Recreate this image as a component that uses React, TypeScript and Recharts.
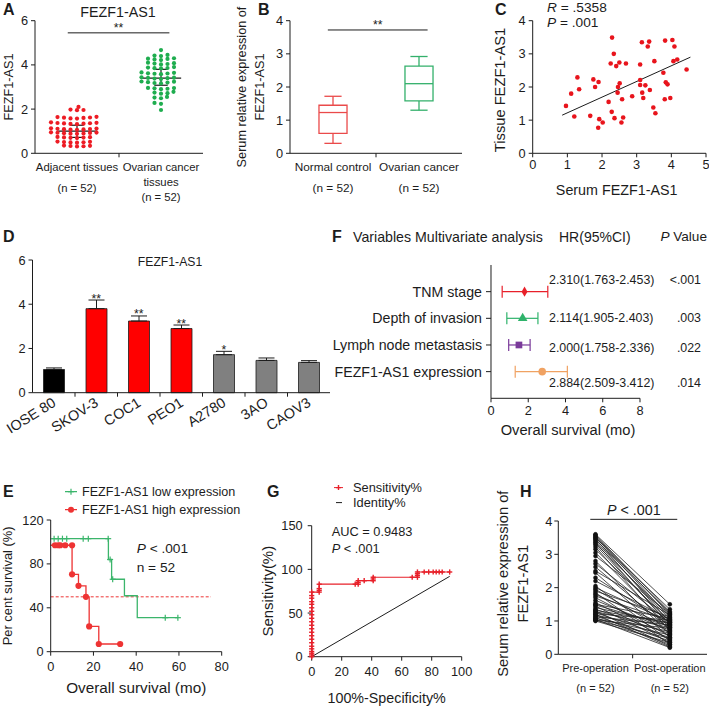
import React from "react";
import {
  ComposedChart,
  Scatter,
  Line,
  Bar,
  Cell,
  XAxis,
  YAxis,
  ReferenceLine,
  ReferenceArea,
  ErrorBar,
  Label,
  Symbols,
} from "recharts";

// ---------- A: tissue expression ----------
const catsA = [["Adjacent tissues", "(n = 52)"], ["Ovarian cancer", "tissues", "(n = 52)"]];
const adjacentA = [2.1, 1.98, 1.96, 1.95, 1.64, 1.6, 1.62, 1.58, 1.65, 1.57, 1.61, 1.36, 1.33, 1.38, 1.35, 1.32, 1.37, 1.34, 1.4, 1.1, 1.12, 1.08, 1.11, 1.07, 1.13, 1.09, 1.06, 0.92, 0.9, 0.94, 0.89, 0.93, 0.91, 0.95, 0.88, 0.73, 0.7, 0.74, 0.71, 0.72, 0.69, 0.52, 0.5, 0.53, 0.49, 0.51, 0.48, 0.34, 0.33, 0.32, 0.35, 0.31];
const ovarianA = [4.67, 4.45, 4.42, 4.4, 4.3, 4.27, 4.25, 4.28, 4.22, 4.08, 4.04, 4.1, 4.06, 4.02, 3.88, 3.85, 3.9, 3.86, 3.84, 3.62, 3.66, 3.6, 3.64, 3.58, 3.61, 3.42, 3.4, 3.38, 3.44, 3.36, 3.41, 3.22, 3.25, 3.18, 3.2, 3.24, 3.16, 2.95, 2.92, 2.96, 2.9, 2.94, 2.75, 2.72, 2.7, 2.78, 2.52, 2.55, 2.49, 2.28, 2.24, 1.96];
const midA = [1.0, 3.4];
const loA = [0.72, 3.08];
const hiA = [1.27, 3.8];

// ---------- B: serum box plot ----------
const catsB = [["Normal control", "(n = 52)"], ["Ovarian cancer", "(n = 52)"]];
const minB = [0.3, 1.3];
const q1B = [0.6, 1.58];
const medB = [1.23, 2.1];
const q3B = [1.45, 2.63];
const maxB = [1.72, 2.92];

// ---------- C: correlation ----------
const serumC = [0.96, 1.11, 1.29, 1.34, 1.2, 1.75, 1.8, 1.9, 1.66, 1.92, 1.89, 2.02, 2.19, 2.29, 2.34, 2.25, 2.5, 2.41, 2.69, 2.28, 2.36, 2.46, 2.51, 2.45, 2.58, 2.61, 2.56, 2.87, 3.1, 3.1, 3.1, 3.16, 3.19, 3.25, 3.15, 3.32, 3.36, 3.38, 3.51, 3.48, 3.54, 3.77, 3.82, 3.81, 3.84, 3.89, 3.97, 4.03, 4.06, 4.09, 4.17, 4.44];
const tissueC = [1.43, 1.8, 2.29, 1.93, 1.11, 2.23, 2.0, 2.15, 1.13, 1.03, 0.77, 0.93, 1.55, 3.49, 3.0, 2.71, 2.74, 2.63, 2.71, 1.25, 1.06, 2.0, 2.11, 1.83, 1.63, 1.08, 0.93, 1.72, 2.21, 2.68, 2.06, 1.83, 1.67, 2.05, 3.35, 3.22, 3.37, 1.91, 2.78, 1.38, 1.21, 2.43, 3.4, 1.63, 2.14, 2.08, 1.67, 3.42, 2.78, 3.22, 2.83, 2.53];
const fitXC = [0.85, 4.55];
const fitYC = [1.15, 2.9];

// ---------- D: cell lines ----------
const cellsD = ["IOSE 80", "SKOV-3", "COC1", "PEO1", "A2780", "3AO", "CAOV3"];
const meanD = [1.05, 3.8, 3.24, 2.9, 1.72, 1.46, 1.37];
const errD = [0.07, 0.39, 0.23, 0.16, 0.15, 0.11, 0.08];
const sigD = ["", "**", "**", "**", "*", "", ""];
const colorsD = ["#000000", "#ff0000", "#ff0000", "#ff0000", "#808080", "#808080", "#808080"];

// ---------- E: survival ----------
const lowE = [{ x: 0, y: 103 }, { x: 27, y: 84 }, { x: 28.5, y: 66 }, { x: 34.5, y: 51 }, { x: 40.5, y: 31 }, { x: 59.5, y: 31 }];
const highE = [{ x: 0, y: 97 }, { x: 10, y: 70.5 }, { x: 13, y: 60 }, { x: 16.5, y: 50 }, { x: 18, y: 23 }, { x: 22.5, y: 7 }, { x: 32.5, y: 7 }];
const lowCensE = [{ x: 1.6, y: 103 }, { x: 3.5, y: 103 }, { x: 5.5, y: 103 }, { x: 7.5, y: 103 }, { x: 15.2, y: 103 }, { x: 17.6, y: 103 }, { x: 26.9, y: 103 }, { x: 27.8, y: 84 }, { x: 29, y: 66 }, { x: 53.6, y: 31 }, { x: 59.5, y: 31 }];
const highCensE = [{ x: 2, y: 97 }, { x: 3.5, y: 97 }, { x: 4.5, y: 97 }, { x: 6.8, y: 97 }, { x: 10, y: 97 }, { x: 10, y: 70.5 }, { x: 13, y: 60 }, { x: 16.5, y: 50 }, { x: 18, y: 23 }, { x: 22.5, y: 7 }, { x: 32.5, y: 7 }];
const legendE = ["FEZF1-AS1 low expression", "FEZF1-AS1 high expression"];

// ---------- F: multivariate ----------
const varsF = ["TNM stage", "Depth of invasion", "Lymph node metastasis", "FEZF1-AS1 expression"];
const pointF = [1.8, 1.7, 1.5, 2.75];
const lowF = [0.6, 0.85, 0.95, 1.3];
const highF = [3.05, 2.52, 2.1, 4.1];
const hrF = ["2.310(1.763-2.453)", "2.114(1.905-2.403)", "2.000(1.758-2.336)", "2.884(2.509-3.412)"];
const pF = ["<.001", ".003", ".022", ".014"];

// ---------- G: ROC ----------
const rocX = [0, 0, 0, 0, 0, 0, 0, 0, 0, 0, 0, 0, 0, 0, 0, 0, 0, 0, 0, 0, 0, 0, 5, 5, 5, 5, 29, 31, 31, 31, 35, 41, 41, 41, 67, 70.5, 70.5, 70.5, 70.5, 75, 78, 81, 83, 85, 87, 92];
const rocY = [0, 2, 4, 6, 9, 12, 16, 20, 24, 28, 32, 36, 40, 44, 48, 52, 56, 60, 63, 67, 70, 74, 74, 76, 78, 83, 83, 83, 85, 87, 87, 87, 89, 91, 91, 91, 93, 95, 97, 97, 97, 97, 97, 97, 97, 97];
const identityG = [{ x: 0, y: 0 }, { x: 92, y: 92 }];

// ---------- H: pre / post operation ----------
const catsH = [["Pre-operation", "(n = 52)"], ["Post-operation", "(n = 52)"]];
const preH = [3.6, 3.58, 3.55, 3.52, 3.5, 3.47, 3.44, 3.4, 3.36, 3.32, 3.28, 3.22, 3.15, 3.05, 2.95, 2.8, 2.72, 2.62, 2.5, 2.45, 2.3, 2.2, 2.05, 2.0, 1.95, 1.9, 1.85, 1.8, 1.75, 1.7, 1.62, 1.55, 1.5, 1.45, 1.4, 1.35, 1.3, 1.28, 1.25, 1.22, 1.2, 1.18, 1.15, 1.13, 1.1, 1.08, 1.05, 1.03, 1.02, 1.0, 1.32, 1.48];
const postH = [1.5, 1.28, 1.2, 1.1, 1.35, 0.95, 1.25, 1.05, 0.85, 1.15, 0.9, 0.7, 1.0, 0.8, 1.22, 0.6, 0.95, 0.75, 1.18, 0.5, 0.88, 1.05, 0.4, 0.98, 0.65, 1.12, 0.3, 0.82, 1.0, 0.55, 0.72, 0.45, 1.08, 0.35, 0.92, 0.62, 0.25, 0.8, 0.5, 1.02, 0.22, 0.68, 0.4, 0.88, 0.3, 0.58, 0.2, 0.78, 0.48, 0.35, 0.95, 0.85];

// ---------- styling ----------
// no narrow face is installed, so sizes follow the text widths of the original
const NARROW = 0.9;
const fz = (w: number) => Math.round((w / NARROW) * 10) / 10;
const FONT = "'Liberation Sans', Arial, sans-serif";
const BOLD = "'Liberation Sans', Arial, sans-serif";
const INK = "#1c1c1c";
const TICK = fz(11.5);

function Txt({ x, y, a = "start", size = 14, bold = false, children }: any) {
  const tx = a === "middle" ? "-50%" : a === "end" ? "-100%" : "0";
  return (
    <div
      style={{
        position: "absolute",
        left: x,
        top: y,
        transform: `translate(${tx}, -50%)`,
        fontSize: size,
        lineHeight: 1,
        whiteSpace: "nowrap",
        fontFamily: bold ? BOLD : FONT,
        fontWeight: bold ? 700 : 400,
        color: INK,
      }}
    >
      {children}
    </div>
  );
}

const Panel = ({ left, top, children }: any) => (
  <div style={{ position: "absolute", left, top }}>{children}</div>
);

// beeswarm layout: y stays at the value, x shifts sideways until the dot
// clears its neighbours (ellipse: wider spacing across than up/down)
function swarm(vals: number[], center: number, pxX: number, pxY: number, gx: number, gy: number) {
  const placed: { x: number; y: number }[] = [];
  return [...vals].sort((a, b) => a - b).map((v, n) => {
    const py = v * pxY;
    const side = n % 2 ? -1 : 1;
    let off = 0;
    for (let k = 0; k < 400; k++) {
      const o = (k % 2 ? -side : side) * Math.ceil(k / 2) * 0.5;
      if (placed.every((p) => ((p.x - o) / gx) ** 2 + ((p.y - py) / gy) ** 2 >= 1)) {
        off = o;
        break;
      }
    }
    placed.push({ x: off, y: py });
    return { x: center + off / pxX, y: v };
  });
}

const yTitle = (lines: string[], dx: number, size: number, dy = 0, gap = 0) => (p: any) => {
  const vb = p.viewBox || { x: 0, y: 0, height: 0 };
  const cx = vb.x + dx;
  const cy = vb.y + vb.height / 2 + dy;
  return (
    <text x={cx} y={cy} transform={`rotate(-90 ${cx} ${cy})`} textAnchor="middle" dominantBaseline="central" fill={INK} fontSize={size}>
      {lines.map((l, i) => (
        <tspan key={i} x={cx} dy={i === 0 ? 0 : gap}>{l}</tspan>
      ))}
    </text>
  );
};

const xTitle = (text: string, dy: number, size: number, dx = 0) => (p: any) => {
  const vb = p.viewBox || { x: 0, y: 0, width: 0 };
  return (
    <text x={vb.x + vb.width / 2 + dx} y={vb.y + dy} textAnchor="middle" dominantBaseline="central" fill={INK} fontSize={size}>
      {text}
    </text>
  );
};

// ticks for two-group numeric axes: label at 0.5 / 1.5, tick mark at 1
const catTick = (cats: string[][], axisY: number, first: number, gaps: number[], size: number) => (p: any) => {
  const { x, payload } = p;
  if (payload.value === 1) return <line x1={x} x2={x} y1={axisY} y2={axisY + 4} stroke={INK} />;
  const i = payload.value < 1 ? 0 : 1;
  return (
    <text textAnchor="middle" dominantBaseline="central" fill={INK} fontSize={size}>
      {cats[i].map((l, k) => (
        <tspan key={k} x={x} y={axisY + first + k * gaps[i]}>{l}</tspan>
      ))}
    </text>
  );
};

const sigLabel = (text: string, size: number, dy: number, italicP = false) => (p: any) => {
  const vb = p.viewBox || { x: 0, y: 0, width: 0 };
  return (
    <text x={vb.x + vb.width / 2} y={vb.y + dy} textAnchor="middle" dominantBaseline="central" fill={INK} fontSize={size}>
      {italicP && <tspan fontStyle="italic">P</tspan>}
      {text}
    </text>
  );
};

const dot = (r: number, fill: string) => (p: any) => <circle cx={p.cx} cy={p.cy} r={r} fill={fill} />;
const plus = (s: number, c: string, w = 1.2) => (p: any) => (
  <g stroke={c} strokeWidth={w}>
    <line x1={p.cx - s} x2={p.cx + s} y1={p.cy} y2={p.cy} />
    <line x1={p.cx} x2={p.cx} y1={p.cy - s} y2={p.cy + s} />
  </g>
);

const yAx = (w: number, domain: number[], ticks: number[], margin = 3) => ({
  type: "number" as const,
  dataKey: "y",
  width: w,
  domain,
  ticks,
  stroke: INK,
  tickSize: 4,
  tickMargin: margin,
  interval: 0 as const,
  tick: { fill: INK, fontSize: TICK },
});

// ---------- panels ----------
function PanelA() {
  const mt = 20.7, ph = 132.6, H = 205, axisY = mt + ph;
  const red = swarm(adjacentA, 0.5, 84, ph / 6, 6.4, 3.4);
  const green = swarm(ovarianA, 1.5, 84, ph / 6, 6.4, 3.4);
  return (
    <Panel left={0} top={0}>
      <ComposedChart width={210} height={H} margin={{ top: mt, right: 7, bottom: 0, left: 0 }}>
        <XAxis type="number" dataKey="x" domain={[0, 2]} ticks={[0.5, 1, 1.5]} interval={0} height={H - axisY} stroke={INK} tickLine={false} tick={catTick(catsA, axisY, 13.4, [21.6, 15], fz(10.2))} />
        <YAxis {...yAx(35, [0, 6], [0, 2, 4, 6])}>
          <Label content={yTitle(["FEZF1-AS1"], 9, fz(11.4))} />
        </YAxis>
        <Scatter data={red} dataKey="y" shape={dot(2.1, "#ed1c24")} isAnimationActive={false} />
        <Scatter data={green} dataKey="y" shape={dot(2.1, "#1fad4f")} isAnimationActive={false} />
        {midA.map((m, i) => {
          const c = i + 0.5;
          return [
            <ReferenceLine key={`m${i}`} segment={[{ x: c - 0.24, y: m }, { x: c + 0.24, y: m }]} stroke={INK} strokeWidth={1.2} />,
            <ReferenceLine key={`v${i}`} segment={[{ x: c, y: loA[i] }, { x: c, y: hiA[i] }]} stroke={INK} strokeWidth={1.2} />,
            <ReferenceLine key={`l${i}`} segment={[{ x: c - 0.08, y: loA[i] }, { x: c + 0.08, y: loA[i] }]} stroke={INK} strokeWidth={1.2} />,
            <ReferenceLine key={`h${i}`} segment={[{ x: c - 0.08, y: hiA[i] }, { x: c + 0.08, y: hiA[i] }]} stroke={INK} strokeWidth={1.2} />,
          ];
        })}
        <ReferenceLine segment={[{ x: 0.39, y: 5.45 }, { x: 1.6, y: 5.45 }]} stroke={INK} label={sigLabel("**", fz(11), -5)} />
      </ComposedChart>
    </Panel>
  );
}

function PanelB() {
  const mt = 20.7, ph = 132.6, H = 205, axisY = mt + ph;
  const colors = ["#ea4a4a", "#33b06b"];
  const medians = medB.map((m, i) => ({ x: i + 0.5, y: m, c: colors[i] }));
  const hw = 0.163, cw = 0.1;
  return (
    <Panel left={233} top={0}>
      <ComposedChart width={235} height={H} margin={{ top: mt, right: 6, bottom: 0, left: 0 }}>
        <XAxis type="number" dataKey="x" domain={[0, 2]} ticks={[0.5, 1, 1.5]} interval={0} height={H - axisY} stroke={INK} tickLine={false} tick={catTick(catsB, axisY, 13.7, [21.3, 21.3], fz(10.6))} />
        <YAxis {...yAx(57, [0, 4], [0, 1, 2, 3, 4])}>
          <Label content={yTitle(["Serum relative expression of", "FEZF1-AS1"], 8.7, fz(11.4), 0, 18.3)} />
        </YAxis>
        {medB.map((_, i) => {
          const c = i + 0.5, col = colors[i];
          return [
            <ReferenceArea key={`b${i}`} x1={c - hw} x2={c + hw} y1={q1B[i]} y2={q3B[i]} fill="none" stroke={col} strokeWidth={1.3} />,
            <ReferenceLine key={`w1${i}`} segment={[{ x: c, y: minB[i] }, { x: c, y: q1B[i] }]} stroke={col} strokeWidth={1.3} />,
            <ReferenceLine key={`w2${i}`} segment={[{ x: c, y: q3B[i] }, { x: c, y: maxB[i] }]} stroke={col} strokeWidth={1.3} />,
            <ReferenceLine key={`c1${i}`} segment={[{ x: c - cw, y: minB[i] }, { x: c + cw, y: minB[i] }]} stroke={col} strokeWidth={1.3} />,
            <ReferenceLine key={`c2${i}`} segment={[{ x: c - cw, y: maxB[i] }, { x: c + cw, y: maxB[i] }]} stroke={col} strokeWidth={1.3} />,
          ];
        })}
        <Scatter
          data={medians}
          dataKey="y"
          isAnimationActive={false}
          shape={(p: any) => <line x1={p.cx - 14} x2={p.cx + 14} y1={p.cy} y2={p.cy} stroke={p.payload.c} strokeWidth={1.3} />}
        />
        <ReferenceLine segment={[{ x: 0.44, y: 3.72 }, { x: 1.6, y: 3.72 }]} stroke={INK} label={sigLabel("**", fz(11), -5)} />
      </ComposedChart>
    </Panel>
  );
}

function PanelC() {
  const mt = 20.7, H = 205, axisY = mt + 132.6;
  const pts = serumC.map((x, i) => ({ x, y: tissueC[i] }));
  return (
    <Panel left={490} top={0}>
      <ComposedChart width={219} height={H} margin={{ top: mt, right: 3, bottom: 0, left: 0 }}>
        <XAxis type="number" dataKey="x" domain={[0, 5]} ticks={[0, 1, 2, 3, 4, 5]} interval={0} height={H - axisY} stroke={INK} tickSize={4} tickMargin={3} tick={{ fill: INK, fontSize: TICK }}>
          <Label content={xTitle("Serum FEZF1-AS1", 36.7, fz(12.9), -2.7)} />
        </XAxis>
        <YAxis {...yAx(42.7, [0, 4], [0, 1, 2, 3, 4])}>
          <Label content={yTitle(["Tissue FEZF1-AS1"], 10, fz(13.2), 3)} />
        </YAxis>
        <Scatter data={pts} dataKey="y" shape={dot(2.3, "#e8141c")} isAnimationActive={false} />
        <ReferenceLine segment={[{ x: fitXC[0], y: fitYC[0] }, { x: fitXC[1], y: fitYC[1] }]} stroke={INK} strokeWidth={1} />
      </ComposedChart>
    </Panel>
  );
}

function PanelD() {
  const mt = 10, ph = 132.7, H = 185, axisY = mt + ph;
  const band = 297.5 / cellsD.length;
  const data = cellsD.map((name, i) => ({ name, value: meanD[i], err: [0, errD[i]], top: meanD[i] + errD[i], sig: sigD[i] }));
  const tick = (p: any) => {
    const { x, payload, index } = p;
    const tx = x + 3, ty = axisY + 12.5;
    return (
      <g>
        {index < cellsD.length - 1 && <line x1={x + band / 2} x2={x + band / 2} y1={axisY} y2={axisY + 4} stroke={INK} />}
        <text x={tx} y={ty} transform={`rotate(-32 ${tx} ${ty})`} textAnchor="end" fontSize={fz(13)} fill={INK}>
          {payload.value}
        </text>
      </g>
    );
  };
  return (
    <Panel left={0} top={260 - mt}>
      <ComposedChart width={332} height={H} data={data} margin={{ top: mt, right: 2, bottom: 0, left: 0 }}>
        <XAxis dataKey="name" type="category" interval={0} height={H - axisY} stroke={INK} tickLine={false} tick={tick} />
        <YAxis type="number" width={32.5} domain={[0, 6]} ticks={[0, 2, 4, 6]} interval={0} stroke={INK} tickSize={4} tickMargin={3} tick={{ fill: INK, fontSize: TICK }} />
        <Bar dataKey="value" barSize={21} stroke={INK} strokeWidth={0.8} isAnimationActive={false}>
          {data.map((_, i) => (
            <Cell key={i} fill={colorsD[i]} />
          ))}
          <ErrorBar dataKey="err" width={8} stroke={INK} strokeWidth={1} direction="y" />
        </Bar>
        <Scatter
          dataKey="top"
          isAnimationActive={false}
          shape={(p: any) => (
            <text x={p.cx} y={p.cy + 2.5} textAnchor="middle" fontSize={fz(11)} fill={INK}>
              {p.payload.sig}
            </text>
          )}
        />
      </ComposedChart>
    </Panel>
  );
}

function PanelF() {
  const mt = 10, ph = 133.3, H = 185.3, axisY = mt + ph;
  const colors = ["#e8202a", "#2fb36b", "#7a3a9a", "#f0a262"];
  const shapes = ["diamond", "triangle", "square", "circle"];
  const sizes = [30, 40, 45, 45];
  return (
    <Panel left={330} top={265 - mt}>
      <ComposedChart width={315} height={H} margin={{ top: mt, right: 5, bottom: 0, left: 0 }}>
        <XAxis type="number" dataKey="x" domain={[0, 8]} ticks={[0, 2, 4, 6, 8]} interval={0} height={H - axisY} stroke={INK} tickSize={4} tickMargin={4} tick={{ fill: INK, fontSize: TICK }}>
          <Label content={xTitle("Overall survival (mo)", 31.7, fz(13.2), 2.5)} />
        </XAxis>
        <YAxis
          type="number"
          dataKey="y"
          width={161}
          domain={[0, 5]}
          reversed
          ticks={[1, 2, 3, 4]}
          interval={0}
          stroke={INK}
          tickSize={5}
          tickMargin={4}
          tickFormatter={(v: number) => varsF[v - 1]}
          tick={{ fill: INK, fontSize: fz(12.8) }}
        />
        {varsF.map((_, i) => (
          <Scatter
            key={i}
            data={[{ x: pointF[i], y: i + 1, err: [pointF[i] - lowF[i], highF[i] - pointF[i]] }]}
            dataKey="y"
            isAnimationActive={false}
            shape={(p: any) => <Symbols cx={p.cx} cy={p.cy} type={shapes[i] as any} size={sizes[i]} fill={colors[i]} />}
          >
            <ErrorBar dataKey="err" direction="x" width={6} stroke={colors[i]} strokeWidth={1.2} />
          </Scatter>
        ))}
      </ComposedChart>
    </Panel>
  );
}

function PanelE() {
  const mt = 10, ph = 131.7, H = 198, axisY = mt + ph;
  return (
    <Panel left={0} top={520 - mt}>
      <ComposedChart width={229.7} height={H} margin={{ top: mt, right: 8, bottom: 0, left: 0 }}>
        <XAxis type="number" dataKey="x" domain={[0, 80]} ticks={[0, 20, 40, 60, 80]} interval={0} height={H - axisY} stroke={INK} tickSize={4} tickMargin={6} tick={{ fill: INK, fontSize: TICK }}>
          <Label content={xTitle("Overall survival (mo)", 35.6, fz(13.8))} />
        </XAxis>
        <YAxis {...yAx(50.7, [0, 120], [0, 40, 80, 120])}>
          <Label content={yTitle(["Per cent survival (%)"], 6.7, fz(11.6))} />
        </YAxis>
        <ReferenceLine segment={[{ x: 0, y: 50 }, { x: 75, y: 50 }]} stroke="#ee3333" strokeDasharray="3 2" />
        <Line data={lowE} dataKey="y" type="stepAfter" stroke="#3bb56b" strokeWidth={1.3} dot={false} activeDot={false} isAnimationActive={false} />
        <Line data={highE} dataKey="y" type="stepAfter" stroke="#ee3333" strokeWidth={1.3} dot={false} activeDot={false} isAnimationActive={false} />
        <Scatter data={lowCensE} dataKey="y" shape={plus(3, "#3bb56b")} isAnimationActive={false} />
        <Scatter data={highCensE} dataKey="y" shape={dot(3.1, "#ee3333")} isAnimationActive={false} />
      </ComposedChart>
    </Panel>
  );
}

function PanelG() {
  const mt = 10.7, ph = 131, H = 193, axisY = mt + ph;
  const roc = rocX.map((x, i) => ({ x, y: rocY[i] }));
  return (
    <Panel left={258} top={525.7 - mt}>
      <ComposedChart width={215.7} height={H} margin={{ top: mt, right: 12, bottom: 0, left: 0 }}>
        <XAxis type="number" dataKey="x" domain={[0, 100]} ticks={[0, 20, 40, 60, 80, 100]} interval={0} height={H - axisY} stroke={INK} tickSize={4} tickMargin={6} tick={{ fill: INK, fontSize: TICK }}>
          <Label content={xTitle("100%-Specificity%", 41.6, fz(12.9))} />
        </XAxis>
        <YAxis {...yAx(53.7, [0, 150], [0, 50, 100, 150], 5)}>
          <Label content={yTitle(["Sensitivity(%)"], 8.7, fz(13.5))} />
        </YAxis>
        <Line data={identityG} dataKey="y" type="linear" stroke={INK} strokeWidth={1} dot={false} activeDot={false} isAnimationActive={false} />
        <Line data={roc} dataKey="y" type="linear" stroke="#e8202a" strokeWidth={1.2} dot={false} activeDot={false} isAnimationActive={false} />
        <Scatter data={roc} dataKey="y" shape={plus(2.6, "#e8202a", 1.4)} isAnimationActive={false} />
      </ComposedChart>
    </Panel>
  );
}

function PanelH() {
  const mt = 21, ph = 133.3, H = 208, axisY = mt + ph;
  return (
    <Panel left={495} top={521 - mt}>
      <ComposedChart width={214} height={H} margin={{ top: mt, right: 2, bottom: 0, left: 0 }}>
        <XAxis type="number" dataKey="x" domain={[0, 2]} ticks={[0.5, 1, 1.5]} interval={0} height={H - axisY} stroke={INK} tickLine={false} tick={catTick(catsH, axisY, 14, [20, 20], fz(9.9))} />
        <YAxis {...yAx(63.3, [0, 4], [0, 1, 2, 3, 4], 2)}>
          <Label content={yTitle(["Serum relative expression of", "FEZF1-AS1"], 8.3, fz(13.2), -4, 20)} />
        </YAxis>
        {preH.map((v, i) => (
          <Line
            key={i}
            data={[{ x: 0.5, y: v }, { x: 1.5, y: postH[i] }]}
            dataKey="y"
            stroke="#222"
            strokeWidth={0.8}
            dot={{ r: 2, fill: "#111", stroke: "#111", strokeWidth: 0.5 }}
            activeDot={false}
            isAnimationActive={false}
          />
        ))}
        <ReferenceLine segment={[{ x: 0.43, y: 4.05 }, { x: 1.6, y: 4.05 }]} ifOverflow="visible" stroke={INK} label={sigLabel(" < .001", fz(12.9), -9.3, true)} />
      </ComposedChart>
    </Panel>
  );
}

export default function App() {
  return (
    <div style={{ position: "absolute", left: 0, top: 0, width: 709, height: 708, background: "#fff", fontFamily: FONT, color: INK, overflow: "hidden" }}>
      <style>{"svg.recharts-surface{overflow:visible}"}</style>
      <PanelA />
      <PanelB />
      <PanelC />
      <PanelD />
      <PanelF />
      <PanelE />
      <PanelG />
      <PanelH />

      {/* panel letters */}
      <Txt x={3} y={10} size={16} bold>A</Txt>
      <Txt x={258} y={10} size={16} bold>B</Txt>
      <Txt x={495} y={10} size={16} bold>C</Txt>
      <Txt x={3} y={237} size={16} bold>D</Txt>
      <Txt x={332} y={237} size={16} bold>F</Txt>
      <Txt x={3} y={492} size={16} bold>E</Txt>
      <Txt x={267} y={492} size={16} bold>G</Txt>
      <Txt x={520} y={492} size={16} bold>H</Txt>

      {/* A and D titles, C stats */}
      <Txt x={118} y={12} a="middle" size={fz(12.9)}>FEZF1-AS1</Txt>
      <Txt x={170} y={262} a="middle" size={fz(11)}>FEZF1-AS1</Txt>
      <Txt x={547} y={8} size={fz(12.3)}><i>R</i> = .5358</Txt>
      <Txt x={547} y={23} size={fz(12.3)}><i>P</i> = .001</Txt>

      {/* F table */}
      <Txt x={353} y={236.7} size={fz(12.8)}>Variables Multivariate analysis</Txt>
      <Txt x={559} y={236.7} size={fz(12.6)}>HR(95%CI)</Txt>
      <Txt x={707} y={236.7} a="end" size={fz(12.2)}><i>P</i> Value</Txt>
      {hrF.map((t, i) => (
        <Txt key={t} x={549} y={[280, 318.3, 347.7, 383.3][i]} size={fz(11.2)}>{t}</Txt>
      ))}
      {pF.map((t, i) => (
        <Txt key={t} x={701} y={[280, 318.3, 347.7, 383.3][i]} a="end" size={fz(11.2)}>{t}</Txt>
      ))}

      {/* E legend and stats */}
      {legendE.map((t, i) => (
        <div key={t} style={{ position: "absolute", left: 62, top: 491.7 + i * 18.3, transform: "translateY(-50%)", display: "flex", alignItems: "center" }}>
          <svg width={18} height={10}>
            <line x1={3} x2={15} y1={5} y2={5} stroke={i ? "#ee3333" : "#3bb56b"} strokeWidth={1.3} />
            {i ? <circle cx={9} cy={5} r={3} fill="#ee3333" /> : <g stroke="#3bb56b" strokeWidth={1.2}><line x1={6} x2={12} y1={5} y2={5} /><line x1={9} x2={9} y1={2} y2={8} /></g>}
          </svg>
          <span style={{ marginLeft: 2, fontSize: fz(11.3), lineHeight: 1, whiteSpace: "nowrap" }}>{t}</span>
        </div>
      ))}
      <Txt x={136.7} y={549} size={fz(12.3)}><i>P</i> &lt; .001</Txt>
      <Txt x={136.7} y={568.3} size={fz(12.3)}>n = 52</Txt>

      {/* G legend and stats */}
      <div style={{ position: "absolute", left: 333, top: 488, transform: "translateY(-50%)", display: "flex", alignItems: "center" }}>
        <svg width={12} height={10}>
          <line x1={1} x2={10} y1={5} y2={5} stroke="#e8202a" strokeWidth={1} />
          <g stroke="#e8202a" strokeWidth={1.4}><line x1={3} x2={8} y1={5} y2={5} /><line x1={5.5} x2={5.5} y1={2.5} y2={7.5} /></g>
        </svg>
        <span style={{ marginLeft: 8, fontSize: fz(11.5), lineHeight: 1 }}>Sensitivity%</span>
      </div>
      <div style={{ position: "absolute", left: 333, top: 503, transform: "translateY(-50%)", display: "flex", alignItems: "center" }}>
        <svg width={12} height={10}>
          <line x1={3} x2={9} y1={5} y2={5} stroke={INK} strokeWidth={1} />
        </svg>
        <span style={{ marginLeft: 8, fontSize: fz(11.5), lineHeight: 1 }}>Identity%</span>
      </div>
      <Txt x={331.7} y={531.7} size={fz(11.5)}>AUC = 0.9483</Txt>
      <Txt x={331.7} y={549.3} size={fz(11.5)}><i>P</i> &lt; .001</Txt>
    </div>
  );
}
